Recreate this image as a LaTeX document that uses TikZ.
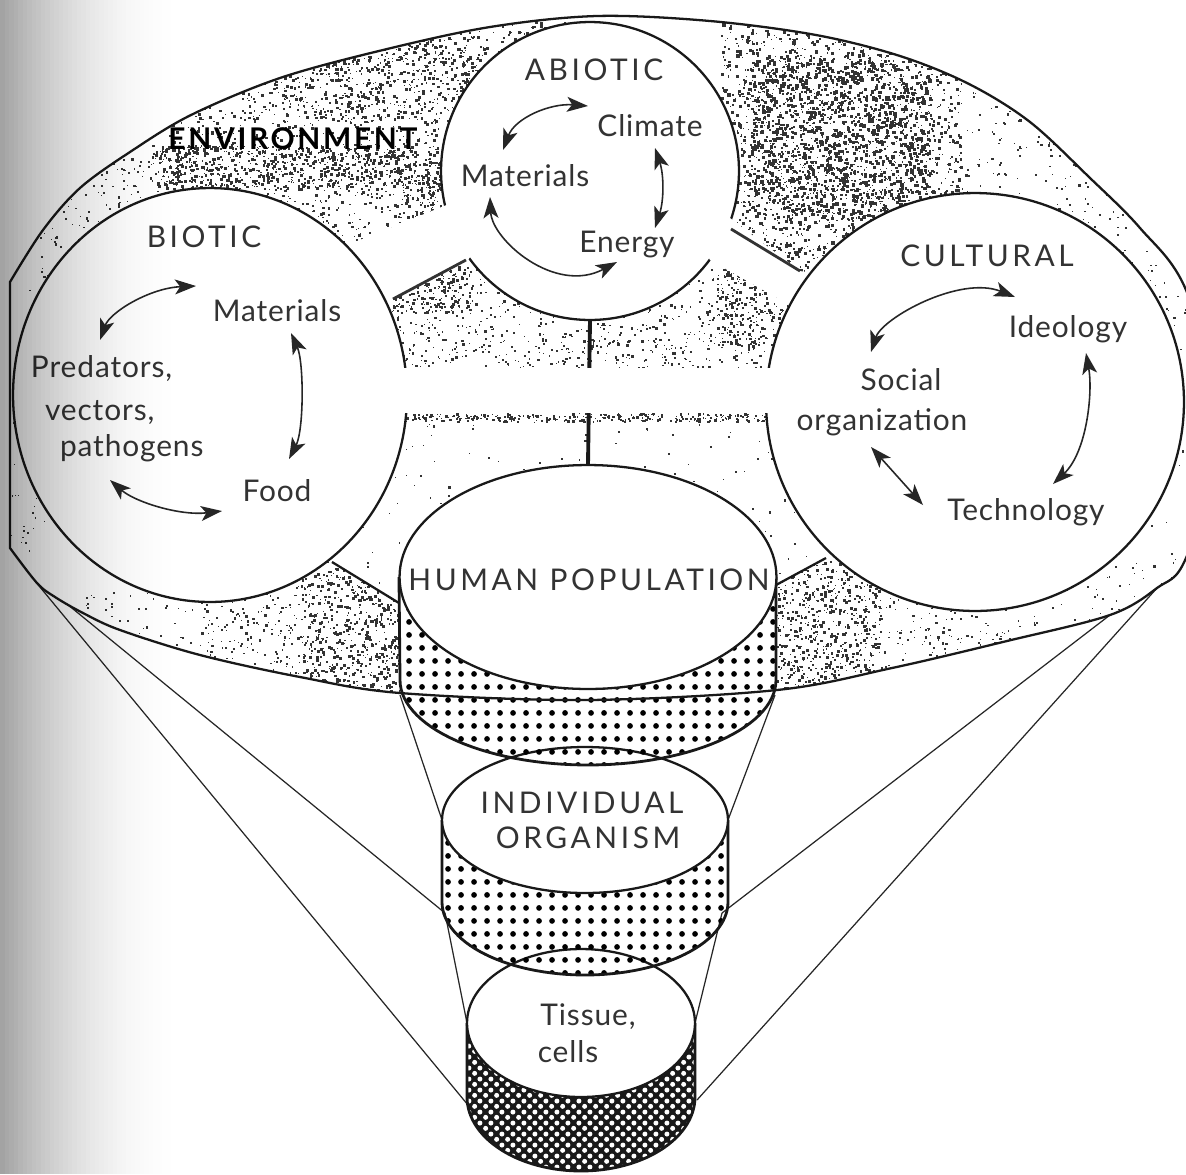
\documentclass[tikz,border=0pt]{standalone}
\usepackage{fontspec}
\setmainfont{Lato}
\usetikzlibrary{arrows.meta,shapes.geometric,patterns}

\pgfdeclarepatternformonly{popdots}{\pgfqpoint{0pt}{0pt}}{\pgfqpoint{7.4pt}{7.4pt}}{\pgfqpoint{7.4pt}{7.4pt}}{\pgfpathcircle{\pgfqpoint{3.7pt}{3.7pt}}{1.75pt}\pgfusepath{fill}}
\pgfdeclarepatternformonly{tissholes}{\pgfqpoint{0pt}{0pt}}{\pgfqpoint{6.4pt}{6.4pt}}{\pgfqpoint{6.4pt}{6.4pt}}{\pgfpathcircle{\pgfqpoint{1.6pt}{1.6pt}}{1.5pt}\pgfpathcircle{\pgfqpoint{4.8pt}{4.8pt}}{1.5pt}\pgfusepath{fill}}

\newcommand\mystip[6]{%
  \foreach \k in {1,...,#1}{%
    \pgfmathsetmacro\sx{#2+rnd*(#4-#2)}%
    \pgfmathsetmacro\sy{#3+rnd*(#5-#3)}%
    \pgfmathsetmacro\ss{0.8+rnd*#6}%
    \fill (\sx,\sy) rectangle ++(\ss,\ss);}}

\newcommand\outerpath{(10,548) -- (10,282) -- plot[smooth, tension=0.55] coordinates {(10,282) (43,230) (80,188) (130,152) (191,115) (280,78) (383,50) (490,27) (597,16) (710,21) (816,35) (900,56) (969,84) (1030,122) (1090,178) (1140,228) (1186,290) (1225,430) (1186,558) (1157,588) (1110,615) (1007,641) (892,668) (777,690) (587,700) (400,693) (300,677) (200,655) (120,630) (83,613) (55,597) (37,583) (10,548)} -- cycle}

\tikzset{
  lab/.style={anchor=base, inner sep=0pt, outer sep=0pt, text=black!80, font=\fontsize{17}{19}\selectfont\addfontfeature{LetterSpace=3}},
  capl/.style={lab, font=\fontsize{17}{19}\selectfont\addfontfeature{LetterSpace=12}},
  ring/.style={draw=black!90, line width=1.3pt, fill=white, inner sep=0pt, outer sep=0pt},
  ringline/.style={black!90, line width=1.3pt},
  stemline/.style={black!90, line width=2.2pt},
  chanline/.style={black!80, line width=1.6pt},
  funnel/.style={black!85, line width=0.7pt},
  bandline/.style={black!90, line width=1.6pt},
  dbl/.style={black!85, line width=0.9pt, {Stealth[length=12pt,width=8.5pt,inset=3pt]}-{Stealth[length=12pt,width=8.5pt,inset=3pt]}},
}

\begin{document}
\begin{tikzpicture}[x=0.02cm,y=-0.02cm]
\useasboundingbox (0,0) rectangle (1186,1174);
\begin{scope}
\clip (0,0) rectangle (1186,1174);
\fill[white] (0,0) rectangle (1186,1174);
\pgfmathsetseed{4242}

% ---------- stippled environment ----------
\begin{scope}
\clip \outerpath;
\begin{scope}[fill=black!80]
 \begin{scope}
  \clip (0,0) -- (600,0) -- (600,171) -- (447,210) -- (349,248) -- (0,300) -- cycle;
  \mystip{1700}{150}{15}{470}{250}{2.3}
  \mystip{700}{160}{145}{440}{188}{2.4}
  \mystip{200}{40}{150}{160}{280}{1.8}
  \mystip{700}{280}{20}{570}{120}{2.3}
  \mystip{300}{400}{180}{470}{250}{2.0}
 \end{scope}
 \begin{scope}
  \clip (600,0) -- (1186,0) -- (1186,330) -- (800,271) -- (731,229) -- (600,171) -- cycle;
  \mystip{2200}{720}{20}{960}{275}{2.6}
  \mystip{1200}{750}{60}{930}{220}{2.8}
  \mystip{300}{960}{60}{1100}{300}{1.8}
  \mystip{90}{1100}{150}{1186}{330}{1.4}
 \end{scope}
 \begin{scope}
  \clip (393,299) -- (466,260) -- (590,320) -- (590,368) -- (380,368) -- cycle;
  \mystip{480}{380}{258}{590}{368}{1.9}
  \mystip{160}{390}{268}{470}{312}{2.3}
 \end{scope}
 \begin{scope}
  \clip (590,320) -- (710,260) -- (788,304) -- (790,368) -- (590,368) -- cycle;
  \mystip{450}{590}{258}{790}{368}{1.9}
  \mystip{220}{715}{265}{790}{345}{2.3}
 \end{scope}
 \begin{scope}
  \clip (380,413) -- (790,413) -- (826,558) -- (776,585) -- (588,465) -- (399,603) -- (332,562) -- cycle;
  \mystip{220}{330}{413}{830}{600}{1.5}
  \mystip{300}{405}{413}{770}{421}{1.9}
 \end{scope}
 \begin{scope}
  \clip (332,562) -- (399,603) -- (400,710) -- (0,710) -- (0,560) -- cycle;
  \mystip{700}{300}{555}{400}{700}{2.4}
  \mystip{220}{200}{580}{300}{690}{1.8}
  \mystip{60}{80}{590}{200}{670}{1.4}
 \end{scope}
 \begin{scope}
  \clip (776,585) -- (826,558) -- (1186,540) -- (1186,710) -- (776,710) -- cycle;
  \mystip{700}{776}{560}{880}{700}{2.4}
  \mystip{200}{880}{580}{1010}{680}{1.8}
  \mystip{90}{1010}{560}{1186}{650}{1.5}
 \end{scope}
 \mystip{40}{10}{280}{50}{560}{1.4}
 \mystip{40}{1120}{300}{1186}{560}{1.4}
\end{scope}
\end{scope}

% ---------- circles and channels ----------
\node[ring, circle, minimum size=5.96cm] (abiotic) at (590,171) {};
\fill[white] (335,250) -- (449,204) -- (478,248) -- (466,262) -- (393,299) -- (370,300) -- cycle;
\fill[white] (722,212) -- (800,271) -- (815,285) -- (788,304) -- (710,260) -- (698,240) -- cycle;
\node[ring, ellipse, minimum width=7.88cm, minimum height=8.28cm] (biotic) at (210,395) {};
\node[ring, circle, minimum size=8.36cm] (cultural) at (975,402) {};

\coordinate (humtop) at (588,465);
\draw[stemline] (abiotic.south) -- (humtop);
\fill[white] (395,368) rectangle (785,413);

\coordinate (chL1) at (393,299); \coordinate (chL2) at (466,260);
\coordinate (chR1) at (731,229); \coordinate (chR2) at (800,271);
\draw[chanline] (chL1) -- (chL2);
\draw[chanline] (chR1) -- (chR2);

\coordinate (bh1) at (332,562); \coordinate (bh2) at (399,603);
\coordinate (ch1) at (826,558); \coordinate (ch2) at (776,585);
\draw[ringline] (bh1) -- (bh2);
\draw[ringline] (ch1) -- (ch2);

% ---------- funnel lines ----------
\coordinate (fl1) at (67,604);   \coordinate (fl1e) at (445,913);
\coordinate (fl2) at (35,581);   \coordinate (fl2e) at (468,1105);
\coordinate (fr1) at (1110,615); \coordinate (fr1e) at (722,913);
\coordinate (fr2) at (1157,588); \coordinate (fr2e) at (697,1100);
\coordinate (b1L) at (400,695);  \coordinate (ioL) at (442,820);
\coordinate (b1R) at (775,695);  \coordinate (ioR) at (728,820);
\coordinate (tsL) at (467,1023); \coordinate (tsR) at (695,1023);
\draw[funnel] (fl1) -- (fl1e);
\draw[funnel] (fl2) -- (fl2e);
\draw[funnel] (fr1) -- (fr1e);
\draw[funnel] (fr2) -- (fr2e);
\draw[funnel] (b1L) -- (ioL);
\draw[funnel] (b1R) -- (ioR);
\draw[funnel] (fl1e) -- (tsL);
\draw[funnel] (fr1e) -- (tsR);

% ---------- cylinder ----------
\fill[black!90] (467,1023) -- plot[domain=180:0,samples=60] ({581+114*cos(\x)},{1097+74*sin(\x)}) -- (695,1023) -- cycle;
\fill[pattern=tissholes, pattern color=white] (467,1023) -- plot[domain=180:0,samples=60] ({581+114*cos(\x)},{1097+74*sin(\x)}) -- (695,1023) -- cycle;
\draw[bandline] (467,1023) -- plot[domain=180:0,samples=60] ({581+114*cos(\x)},{1097+74*sin(\x)}) -- (695,1023);
\node[ring, ellipse, minimum width=4.56cm, minimum height=2.96cm] (tissue) at (581,1023) {};

\fill[pattern=popdots] (442,820) -- plot[domain=180:0,samples=60] ({585+143*cos(\x)},{902+73*sin(\x)}) -- (728,820) -- cycle;
\draw[bandline] (442,820) -- plot[domain=180:0,samples=60] ({585+143*cos(\x)},{902+73*sin(\x)}) -- (728,820);
\node[ring, ellipse, minimum width=5.72cm, minimum height=2.92cm] (organism) at (585,820) {};

\fill[pattern=popdots] (399,577) -- plot[domain=180:0,samples=60] ({588+188*cos(\x)},{680+85*sin(\x)}) -- (776,577) -- cycle;
\draw[bandline] (399,577) -- plot[domain=180:0,samples=60] ({588+188*cos(\x)},{680+85*sin(\x)}) -- (776,577);

% ---------- outer boundary ----------
\draw[ringline] \outerpath;

\node[ring, ellipse, minimum width=7.54cm, minimum height=4.48cm] (human) at (588,577) {};

% ---------- labels ----------
\node[lab, font=\bfseries\fontsize{17}{19}\selectfont\addfontfeature{LetterSpace=9}, text=black] (tEnv) at (293,149) {ENVIRONMENT};
\node[capl] (tAbiotic) at (594,80) {ABIOTIC};
\node[lab] (tClimate) at (650,136) {Climate};
\node[lab] (tAMat) at (525,186) {Materials};
\node[lab] (tEnergy) at (627,252) {Energy};
\node[capl] (tBiotic) at (204,247) {BIOTIC};
\node[lab] (tBMat) at (277,321) {Materials};
\node[lab, anchor=base west] (tPred) at (31,377) {Predators,};
\node[lab, anchor=base west] (tVect) at (45,420) {vectors,};
\node[lab, anchor=base west] (tPath) at (60,456) {pathogens};
\node[lab] (tFood) at (277,501) {Food};
\node[capl] (tCult) at (987,266) {CULTURAL};
\node[lab] (tIdeo) at (1068,337) {Ideology};
\node[lab] (tSoc) at (901,390) {Social};
\node[lab] (tOrg) at (882,430) {organization};
\node[lab] (tTech) at (1026,520) {Technology};
\node[capl] (tHum) at (589,590) {HUMAN POPULATION};
\node[capl] (tInd) at (582,813) {INDIVIDUAL};
\node[capl] (tOrgm) at (588,848) {ORGANISM};
\node[lab] (tTiss) at (588,1025) {Tissue,};
\node[lab] (tCells) at (568,1062) {cells};

% ---------- cycle arrows ----------
\coordinate (a1s) at (503,150); \coordinate (a1e) at (588,106);
\coordinate (a2s) at (655,148); \coordinate (a2e) at (655,228);
\coordinate (a3s) at (490,197); \coordinate (a3e) at (617,262);
\draw[dbl] (a1s) .. controls (515,118) and (550,103) .. (a1e);
\draw[dbl] (a2s) .. controls (664,175) and (664,200) .. (a2e);
\draw[dbl] (a3s) .. controls (492,240) and (555,295) .. (a3e);

\coordinate (b1s) at (100,340); \coordinate (b1e) at (196,286);
\coordinate (b2s) at (291,333); \coordinate (b2e) at (289,459);
\coordinate (b3s) at (110,480); \coordinate (b3e) at (222,511);
\draw[dbl] (b1s) .. controls (110,312) and (150,288) .. (b1e);
\draw[dbl] (b2s) .. controls (304,362) and (304,430) .. (b2e);
\draw[dbl] (b3s) .. controls (135,502) and (180,516) .. (b3e);

\coordinate (c1s) at (871,352); \coordinate (c1e) at (1015,297);
\coordinate (c2s) at (1086,353); \coordinate (c2e) at (1053,484);
\coordinate (c3s) at (871,447); \coordinate (c3e) at (923,505);
\draw[dbl] (c1s) .. controls (882,318) and (960,275) .. (c1e);
\draw[dbl] (c2s) .. controls (1093,392) and (1087,452) .. (c2e);
\draw[dbl] (c3s) -- (c3e);

% ---------- scan shadow ----------
\begin{scope}[blend mode=multiply]
\foreach \i in {0,...,39}{%
  \pgfmathsetmacro\gv{36*(1-\i/40)^2}%
  \fill[black!\gv] ({\i*4.5},0) rectangle ({\i*4.5+4.8},1174);}
\end{scope}
\end{scope}
\end{tikzpicture}
\end{document}
